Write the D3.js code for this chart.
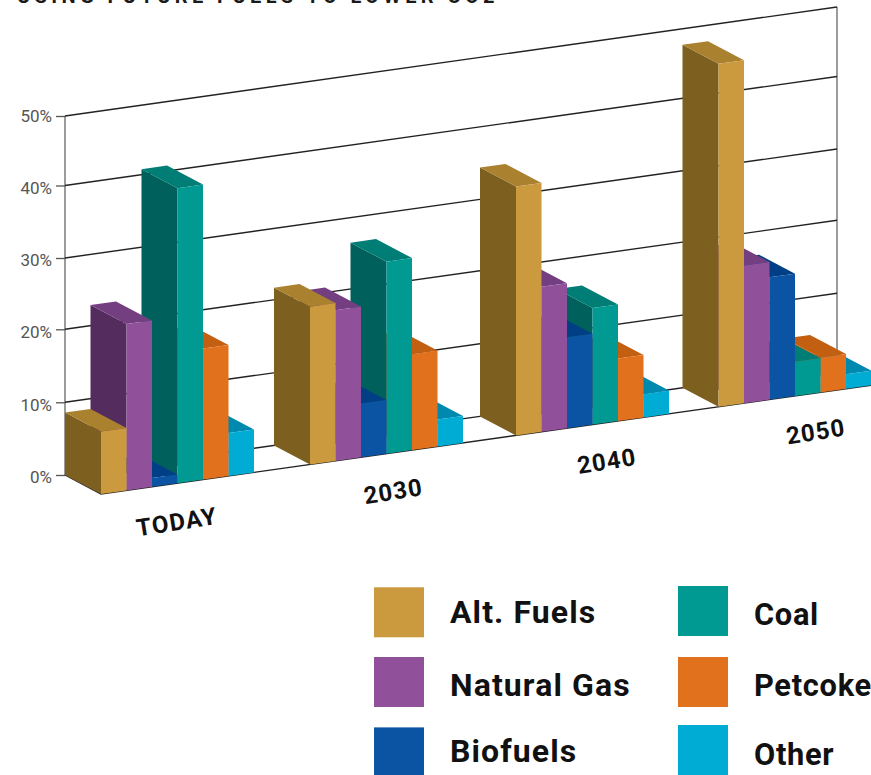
<!DOCTYPE html>
<html><head><meta charset="utf-8">
<script src="https://cdn.jsdelivr.net/npm/d3@7/dist/d3.min.js"></script>
<style>html,body{margin:0;background:#fff;overflow:hidden}svg{display:block}</style>
</head><body><svg id="c" width="871" height="775"></svg>
<script>
const titleText = "USING FUTURE FUELS TO LOWER CO2";
const categories = ["TODAY","2030","2040","2050"];
const seriesNames = ["Alt. Fuels","Natural Gas","Biofuels","Coal","Petcoke","Other"];
const altFuels = [8.6,21.7,34.4,47.7];
const naturalGas = [22.9,20.7,19.9,18.9];
const biofuels = [1.2,7.4,12.5,16.8];
const coal = [40.8,26.5,16,4.7];
const petcoke = [18,13.2,8.6,4.8];
const other = [5.9,3.7,3.2,2];
const tickValues = [0,10,20,30,40,50];
const frontColors = ["#CC9A3E","#90519A","#0B53A3","#009A93","#E2711D","#00ABD4"];
const sideColors  = ["#7D5F20","#552C5E","#05428C","#00615C","#B95C10","#0085AB"];
const topColors   = ["#A9812F","#743F80","#003F85","#007D74","#C25F10","#0089AF"];
const values = [altFuels,naturalGas,biofuels,coal,petcoke,other];

const svg = d3.select("#c");
const wallL=65, wallR=837, slope=-0.1412, depthX=36, depthY=19, barW=25.5;
const y = d3.scaleLinear().domain(tickValues).range([475,402.3,329.3,258,185.5,116]);
const rise = x => slope*(x-wallL);
const frontY = x => 494 + slope*(x-101);
const xCat = d3.scaleOrdinal().domain(categories).range([101,310,516,718.5]);
const xSer = d3.scaleBand().domain(seriesNames).range([0,barW*6]);
const h = v => y(0)-y(v);

// title (cut by the top of the picture, as in the reference)
svg.append("text").attr("x",17).attr("y",2.5).text(titleText)
  .attr("font-family","Roboto").attr("font-weight",700).attr("font-size",20)
  .attr("letter-spacing",4.4).attr("fill","#1a1a1a");

// wall verticals
const wall = svg.append("g");
wall.append("line").attr("x1",wallL).attr("x2",wallL).attr("y1",y(50)).attr("y2",y(0));
wall.append("line").attr("x1",wallR).attr("x2",wallR).attr("y1",y(50)+rise(wallR)).attr("y2",y(0)+rise(wallR));
wall.selectAll("line").attr("stroke","#666").attr("stroke-width",1.3);

// gridlines
svg.append("g").selectAll("line").data(tickValues).join("line")
  .attr("x1",wallL).attr("x2",wallR)
  .attr("y1",d=>y(d)).attr("y2",d=>y(d)+rise(wallR))
  .attr("stroke","#222").attr("stroke-width",1.4);

// left axis
const axis = svg.append("g").attr("transform",`translate(${wallL},0)`)
  .call(d3.axisLeft(y).tickValues(tickValues).tickFormat(d=>d+"%").tickSize(9).tickPadding(4));
axis.select(".domain").remove();
axis.selectAll("line").attr("stroke","#555").attr("stroke-width",1.3);
axis.selectAll("text").attr("font-family","Roboto").attr("font-size",17).attr("fill","#555")
  .attr("transform",d=>`translate(0,${d===50?0.5:2.5})`);

// floor
svg.append("path").attr("fill","none").attr("stroke","#222").attr("stroke-width",1.4)
  .attr("d",d3.line()([[wallL,y(0)],[101,frontY(101)],[871,frontY(871)]]));

// bars, far right first so nearer left bars overlap
const bars = [];
categories.forEach((c,ci)=>seriesNames.forEach((s,si)=>bars.push({c,s,si,v:values[si][ci]})));
bars.sort((a,b)=>d3.descending(xCat(a.c)+xSer(a.s),xCat(b.c)+xSer(b.s)));
const line = d3.line();
const g = svg.append("g").selectAll("g").data(bars).join("g");
const geo = d => {
  const x0=xCat(d.c)+xSer(d.s), x1=x0+xSer.bandwidth();
  const b0=frontY(x0), b1=frontY(x1), t0=b0-h(d.v), t1=b1-h(d.v);
  return {x0,x1,b0,b1,t0,t1};
};
g.append("path").attr("fill",d=>sideColors[d.si]).attr("d",d=>{const p=geo(d);
  return line([[p.x0,p.b0],[p.x0,p.t0],[p.x0-depthX,p.t0-depthY],[p.x0-depthX,p.b0-depthY]])+"Z";});
g.append("path").attr("fill",d=>topColors[d.si]).attr("d",d=>{const p=geo(d);
  return line([[p.x0,p.t0],[p.x1,p.t1],[p.x1-depthX,p.t1-depthY],[p.x0-depthX,p.t0-depthY]])+"Z";});
g.append("path").attr("fill",d=>frontColors[d.si]).attr("d",d=>{const p=geo(d);
  return line([[p.x0,p.b0],[p.x1,p.b1],[p.x1,p.t1],[p.x0,p.t0]])+"Z";});

// category labels
const labelX = d3.scaleOrdinal().domain(categories).range([178,394.5,608,817]);
svg.append("g").selectAll("text").data(categories).join("text")
  .attr("text-anchor","middle")
  .attr("transform",d=>`translate(${labelX(d)},${frontY(labelX(d))+47}) rotate(-9)`)
  .text(d=>d).attr("font-family","Roboto").attr("font-weight",700).attr("font-size",24)
  .attr("letter-spacing",1.1).attr("fill","#111");

// legend
const legX=[374,678], legY=[[587.3,657,727.4],[586,657,725]], legBase=[[622.7,696,761.7],[625,696,765]];
const legSpacing=[1.1,0.7], legSize=[32,30.8];
const col = i => Math.floor(i/3);
const leg = svg.append("g").selectAll("g").data(seriesNames).join("g");
leg.append("rect").attr("x",(d,i)=>legX[col(i)]).attr("y",(d,i)=>legY[col(i)][i%3])
  .attr("width",50).attr("height",50).attr("fill",(d,i)=>frontColors[i]);
leg.append("text").attr("x",(d,i)=>legX[col(i)]+76).attr("y",(d,i)=>legBase[col(i)][i%3]).text(d=>d)
  .attr("font-family","Roboto").attr("font-weight",700).attr("font-size",(d,i)=>legSize[col(i)])
  .attr("letter-spacing",(d,i)=>legSpacing[col(i)]).attr("fill","#111");
</script></body></html>
